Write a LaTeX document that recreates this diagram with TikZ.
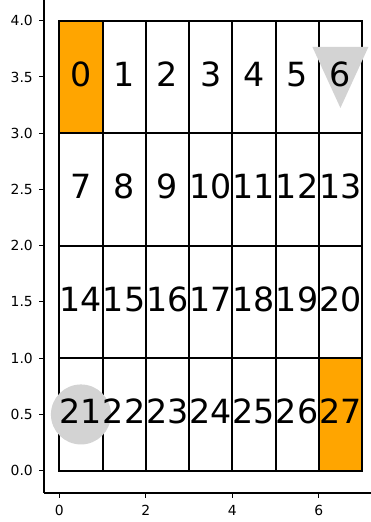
\documentclass[tikz,border=0pt]{standalone}
\usepackage{fontspec}
\setmainfont{DejaVu Sans}
\usetikzlibrary{
    calc
}
\definecolor{goalorange}{HTML}{FFA500}
\definecolor{markgray}{HTML}{D3D3D3}
\tikzset{
  cell/.style={
    draw=black,
    line width=2pt,
    minimum width=43.25pt,
    minimum height=112.5pt,
    inner sep=0pt,
    outer sep=0pt
  },
  num/.style={
    font=\fontsize{33.3}{38}\selectfont,
    inner sep=0pt,
    anchor=base,
    yshift=-9.1pt
  },
  spine/.style={
    black,
    line width=1.1pt
  },
  ticklbl/.style={
    font=\fontsize{13.9}{16}\selectfont,
    inner sep=0pt
  }
}

\begin{document}
\begin{tikzpicture}[x=43.25pt,y=112.5pt]
    \useasboundingbox (-59.3pt,-51.3pt) rectangle (310.7pt,470.7pt);

    % マス目
    \foreach \r in {0,...,3} {
      \foreach \c in {0,...,6} {
        \pgfmathtruncatemacro{\k}{7*\r+\c}
        \ifnum\k=0 \def\cellfill{goalorange}\else
          \ifnum\k=27 \def\cellfill{goalorange}\else\def\cellfill{white}\fi
        \fi
        \node[cell,fill=\cellfill] (c\k) at (\c+0.5,3.5-\r) {};
      }
    }

    % マーカー
    \node[circle,fill=markgray,minimum size=60pt,inner sep=0pt] (start) at (c21.center) {};
    \coordinate (goal) at (c6.center);
    \fill[markgray] ($(goal)+(-28pt,30pt)$) -- ($(goal)+(28pt,30pt)$)
        -- ($(goal)+(0,-31pt)$) -- cycle;

    % 番号
    \foreach \k in {0,...,27}
      \node[num] (n\k) at (c\k.center) {\k};

    % 軸
    \coordinate (corner) at (-15.3pt,-22.3pt);
    \draw[spine] (corner) -- (-15.3pt,480pt);
    \draw[spine] (corner) -- (320pt,-22.3pt);
    \foreach \y in {0.0,0.5,1.0,1.5,2.0,2.5,3.0,3.5,4.0} {
      \draw[spine] (-15.3pt,\y) -- ++(-4.9pt,0);
      \node[ticklbl,anchor=east] (yl\y) at ($(-26.3pt,0)+(0,\y)$) {\y};
    }
    \foreach \x in {0,2,4,6} {
      \draw[spine] (\x,-22.3pt) -- ++(0,-4.9pt);
      \node[ticklbl,anchor=north] (xl\x) at ($(0,-34.3pt)+(\x,0)$) {\x};
    }
\end{tikzpicture}
\end{document}
